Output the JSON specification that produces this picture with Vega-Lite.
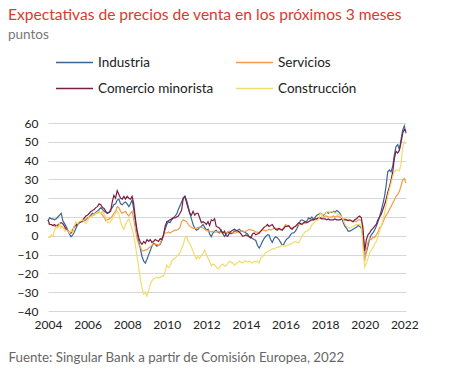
{
"$schema":"https://vega.github.io/schema/vega-lite/v6.json",
"width":358,"height":188,
"autosize":{"type":"none"},
"padding":{"left":48,"top":123,"right":50,"bottom":79},
"background":"white",
"title":{"text":"Expectativas de precios de venta en los próximos 3 meses","subtitle":"puntos","anchor":"start","frame":"group","dx":-40,"offset":2,"font":"Lato","fontSize":15.6,"fontWeight":"normal","color":"#d93a2e","subtitleFont":"Lato","subtitleFontSize":13.5,"subtitleColor":"#777777","subtitlePadding":4},
"config":{"view":{"stroke":null},"font":"Lato"},
"data":{"values":[
{"d":"2004-01","I":8,"S":6.5,"C":8.5,"K":-0.5},{"d":"2004-02","I":9.5,"S":6,"C":6,"K":-1},{"d":"2004-03","I":9,"S":6,"C":6,"K":0.5},{"d":"2004-04","I":9,"S":5.5,"C":5.5,"K":-0.5},{"d":"2004-05","I":8.5,"S":5,"C":6,"K":3},{"d":"2004-06","I":9,"S":5.5,"C":5,"K":5},{"d":"2004-07","I":10,"S":6,"C":5.5,"K":4},{"d":"2004-08","I":11,"S":5.5,"C":6.5,"K":6.5},{"d":"2004-09","I":12,"S":5,"C":7,"K":4},{"d":"2004-10","I":8,"S":4.5,"C":6.5,"K":5},{"d":"2004-11","I":6.5,"S":4,"C":5,"K":2.5},{"d":"2004-12","I":5,"S":3.5,"C":3.5,"K":3},
{"d":"2005-01","I":3,"S":3,"C":2.5,"K":2.5},{"d":"2005-02","I":1,"S":2,"C":1.5,"K":1.5},{"d":"2005-03","I":-0.5,"S":1.5,"C":1.5,"K":3},{"d":"2005-04","I":0.5,"S":3.5,"C":2.5,"K":1.5},{"d":"2005-05","I":2,"S":5,"C":5,"K":5.5},{"d":"2005-06","I":4,"S":6,"C":5.5,"K":7.5},{"d":"2005-07","I":6,"S":6.5,"C":6.5,"K":6.5},{"d":"2005-08","I":7,"S":7.5,"C":7,"K":7.5},{"d":"2005-09","I":7.5,"S":7.5,"C":7.5,"K":8},{"d":"2005-10","I":7.5,"S":8,"C":8.5,"K":8.5},{"d":"2005-11","I":8,"S":8.5,"C":9.5,"K":7.5},{"d":"2005-12","I":8.5,"S":9,"C":10.5,"K":6.5},
{"d":"2006-01","I":9.5,"S":9.5,"C":11,"K":8},{"d":"2006-02","I":10,"S":10,"C":12,"K":9.5},{"d":"2006-03","I":11,"S":10.5,"C":13,"K":10},{"d":"2006-04","I":12,"S":11,"C":13.5,"K":10.5},{"d":"2006-05","I":11.5,"S":11,"C":14,"K":11.5},{"d":"2006-06","I":12.5,"S":12,"C":15,"K":12},{"d":"2006-07","I":13,"S":12,"C":15.5,"K":12.5},{"d":"2006-08","I":14,"S":12.5,"C":17,"K":13},{"d":"2006-09","I":15,"S":12,"C":16.5,"K":12},{"d":"2006-10","I":14,"S":11,"C":15,"K":13},{"d":"2006-11","I":13,"S":10,"C":14.5,"K":11.5},{"d":"2006-12","I":12.5,"S":8,"C":13,"K":10},
{"d":"2007-01","I":12,"S":8.5,"C":12,"K":7},{"d":"2007-02","I":12.5,"S":9,"C":12.5,"K":7},{"d":"2007-03","I":14,"S":9.5,"C":13,"K":7.5},{"d":"2007-04","I":15,"S":10.5,"C":18,"K":9},{"d":"2007-05","I":16.5,"S":12,"C":21.5,"K":10.5},{"d":"2007-06","I":17,"S":13,"C":20,"K":12},{"d":"2007-07","I":19,"S":15.5,"C":24,"K":13},{"d":"2007-08","I":19.5,"S":15,"C":22,"K":11.5},{"d":"2007-09","I":17,"S":13,"C":20,"K":7.5},{"d":"2007-10","I":16.5,"S":12,"C":19.5,"K":5},{"d":"2007-11","I":17.5,"S":12.5,"C":21,"K":3.5},{"d":"2007-12","I":18,"S":13,"C":19.5,"K":6},
{"d":"2008-01","I":17,"S":11.5,"C":21,"K":8},{"d":"2008-02","I":15.5,"S":10.5,"C":20,"K":9},{"d":"2008-03","I":17,"S":12,"C":19.5,"K":6.5},{"d":"2008-04","I":19,"S":13,"C":21,"K":3.5},{"d":"2008-05","I":14,"S":9,"C":17,"K":0},{"d":"2008-06","I":7,"S":3.5,"C":9,"K":-5},{"d":"2008-07","I":1.5,"S":-1.5,"C":3,"K":-11},{"d":"2008-08","I":-3,"S":-4.5,"C":-1,"K":-17},{"d":"2008-09","I":-7,"S":-6,"C":-3.5,"K":-23},{"d":"2008-10","I":-11,"S":-8,"C":-4.5,"K":-28},{"d":"2008-11","I":-13.5,"S":-8,"C":-3,"K":-31},{"d":"2008-12","I":-14.5,"S":-7.5,"C":-4,"K":-30},
{"d":"2009-01","I":-12.5,"S":-7.5,"C":-2,"K":-32},{"d":"2009-02","I":-10,"S":-6.5,"C":-3,"K":-29},{"d":"2009-03","I":-8,"S":-6,"C":-2,"K":-26},{"d":"2009-04","I":-5.5,"S":-5,"C":-3.5,"K":-24},{"d":"2009-05","I":-4,"S":-4.5,"C":-3,"K":-23},{"d":"2009-06","I":-4.5,"S":-4.5,"C":-2,"K":-22.5},{"d":"2009-07","I":-5.5,"S":-4.5,"C":-2.5,"K":-22},{"d":"2009-08","I":-5,"S":-5,"C":-3,"K":-22.5},{"d":"2009-09","I":-4.5,"S":-4,"C":-1.5,"K":-22},{"d":"2009-10","I":-2.5,"S":-2,"C":-2,"K":-21.5},{"d":"2009-11","I":0,"S":0.5,"C":0.5,"K":-21.5},{"d":"2009-12","I":3.5,"S":1.5,"C":5,"K":-19},
{"d":"2010-01","I":6,"S":1.5,"C":7.5,"K":-15.5},{"d":"2010-02","I":7.5,"S":2,"C":8,"K":-17},{"d":"2010-03","I":7,"S":1.5,"C":8.5,"K":-16},{"d":"2010-04","I":8.5,"S":2,"C":9,"K":-13.5},{"d":"2010-05","I":9.5,"S":2.5,"C":9.5,"K":-12.5},{"d":"2010-06","I":10.5,"S":3,"C":9.5,"K":-12},{"d":"2010-07","I":11.5,"S":3,"C":10,"K":-11},{"d":"2010-08","I":14,"S":3.5,"C":10.5,"K":-10},{"d":"2010-09","I":16,"S":4.5,"C":12,"K":-9},{"d":"2010-10","I":18,"S":7.5,"C":13.5,"K":-7},{"d":"2010-11","I":20,"S":8.5,"C":20,"K":-4.5},{"d":"2010-12","I":21,"S":8,"C":21,"K":-1.5},
{"d":"2011-01","I":19,"S":7.5,"C":17.5,"K":-0.3},{"d":"2011-02","I":15.5,"S":6,"C":14.5,"K":-3},{"d":"2011-03","I":12,"S":5,"C":12,"K":-4},{"d":"2011-04","I":9,"S":4.5,"C":11,"K":-6},{"d":"2011-05","I":6,"S":4,"C":13,"K":-8.5},{"d":"2011-06","I":4,"S":4,"C":11,"K":-10.5},{"d":"2011-07","I":3,"S":4,"C":12,"K":-12.5},{"d":"2011-08","I":3.5,"S":4.5,"C":12,"K":-11},{"d":"2011-09","I":4.5,"S":4.5,"C":9.5,"K":-12},{"d":"2011-10","I":5,"S":4.5,"C":7,"K":-10.5},{"d":"2011-11","I":6,"S":4,"C":7.5,"K":-9.5},{"d":"2011-12","I":4.5,"S":3.5,"C":7,"K":-7.5},
{"d":"2012-01","I":3,"S":3,"C":6,"K":-10},{"d":"2012-02","I":3.5,"S":2.5,"C":7.5,"K":-12},{"d":"2012-03","I":1,"S":2.5,"C":5.5,"K":-13.5},{"d":"2012-04","I":-0.5,"S":2,"C":8.5,"K":-16},{"d":"2012-05","I":1.5,"S":2.5,"C":8,"K":-15},{"d":"2012-06","I":2.5,"S":2,"C":9,"K":-15.5},{"d":"2012-07","I":3,"S":2,"C":5,"K":-16.5},{"d":"2012-08","I":2,"S":2.5,"C":4.5,"K":-17.5},{"d":"2012-09","I":1.5,"S":2,"C":4,"K":-17},{"d":"2012-10","I":3,"S":1.5,"C":2.5,"K":-15.5},{"d":"2012-11","I":1,"S":1.5,"C":1.5,"K":-15},{"d":"2012-12","I":-0.3,"S":1.5,"C":2.5,"K":-16},
{"d":"2013-01","I":1,"S":1.5,"C":0,"K":-16},{"d":"2013-02","I":2,"S":2,"C":-0.3,"K":-14.5},{"d":"2013-03","I":1.5,"S":2.5,"C":1.5,"K":-13.5},{"d":"2013-04","I":1,"S":2,"C":2.5,"K":-14},{"d":"2013-05","I":1.5,"S":1.5,"C":3,"K":-14.5},{"d":"2013-06","I":2.5,"S":1.5,"C":3.5,"K":-15.5},{"d":"2013-07","I":2.5,"S":1.5,"C":3,"K":-15},{"d":"2013-08","I":3,"S":2,"C":2.5,"K":-14},{"d":"2013-09","I":3.5,"S":2,"C":2,"K":-13.5},{"d":"2013-10","I":2.5,"S":2.5,"C":1,"K":-14},{"d":"2013-11","I":2.5,"S":2.5,"C":-0.3,"K":-14.5},{"d":"2013-12","I":2,"S":2,"C":0,"K":-13.5},
{"d":"2014-01","I":1.5,"S":2.5,"C":0.5,"K":-13.5},{"d":"2014-02","I":1,"S":3,"C":0,"K":-14},{"d":"2014-03","I":-0.5,"S":3.5,"C":-0.5,"K":-13.5},{"d":"2014-04","I":-0.5,"S":3,"C":-1.2,"K":-14},{"d":"2014-05","I":-1.5,"S":3,"C":1,"K":-14.5},{"d":"2014-06","I":-2,"S":2.5,"C":1.5,"K":-13.5},{"d":"2014-07","I":-2.5,"S":2,"C":0.5,"K":-14},{"d":"2014-08","I":-5,"S":2,"C":1,"K":-13.5},{"d":"2014-09","I":-6.5,"S":1.5,"C":1.5,"K":-14.5},{"d":"2014-10","I":-5,"S":2.5,"C":2.5,"K":-12},{"d":"2014-11","I":-3,"S":3,"C":3.5,"K":-11},{"d":"2014-12","I":-1.5,"S":3,"C":4.5,"K":-10},
{"d":"2015-01","I":-0.3,"S":2.5,"C":5,"K":-9},{"d":"2015-02","I":0.5,"S":3,"C":6,"K":-8.5},{"d":"2015-03","I":0.5,"S":3.5,"C":5,"K":-8},{"d":"2015-04","I":-2,"S":3,"C":5.5,"K":-7.5},{"d":"2015-05","I":-3.5,"S":3.5,"C":6,"K":-7},{"d":"2015-06","I":-1.5,"S":4,"C":4.5,"K":-7},{"d":"2015-07","I":-0.5,"S":4,"C":3.5,"K":-6.5},{"d":"2015-08","I":-1,"S":4,"C":3,"K":-6},{"d":"2015-09","I":-2,"S":3.5,"C":4,"K":-6},{"d":"2015-10","I":-3.5,"S":3,"C":3.5,"K":-5.5},{"d":"2015-11","I":-5,"S":3.5,"C":3,"K":-5},{"d":"2015-12","I":-4.5,"S":4.5,"C":4,"K":-5.5},
{"d":"2016-01","I":-2.5,"S":6,"C":5,"K":-5.5},{"d":"2016-02","I":-1.5,"S":5.5,"C":5,"K":-5},{"d":"2016-03","I":-1,"S":5,"C":5.5,"K":-4.5},{"d":"2016-04","I":0.5,"S":4.5,"C":4,"K":-4.5},{"d":"2016-05","I":1.5,"S":4,"C":3.5,"K":-4},{"d":"2016-06","I":1.5,"S":4.5,"C":4.5,"K":-3.5},{"d":"2016-07","I":2.5,"S":5,"C":5,"K":-3},{"d":"2016-08","I":4,"S":5.5,"C":6,"K":-3.5},{"d":"2016-09","I":6,"S":6,"C":7,"K":-3.8},{"d":"2016-10","I":8,"S":6,"C":6.5,"K":-2},{"d":"2016-11","I":8.5,"S":6.5,"C":6,"K":0},{"d":"2016-12","I":8,"S":7,"C":7,"K":1},
{"d":"2017-01","I":7.5,"S":6.5,"C":7.5,"K":2.3},{"d":"2017-02","I":8,"S":7,"C":7,"K":2.5},{"d":"2017-03","I":9.5,"S":7.5,"C":7.5,"K":3.2},{"d":"2017-04","I":9,"S":8,"C":8,"K":4},{"d":"2017-05","I":10,"S":8.5,"C":8.5,"K":5.9},{"d":"2017-06","I":8.5,"S":8.5,"C":8.5,"K":6.5},{"d":"2017-07","I":10,"S":9,"C":9,"K":7.7},{"d":"2017-08","I":11,"S":9,"C":9,"K":8},{"d":"2017-09","I":11.5,"S":9.5,"C":9.5,"K":8.6},{"d":"2017-10","I":12,"S":9.5,"C":9.5,"K":12},{"d":"2017-11","I":11.5,"S":10,"C":9,"K":11},{"d":"2017-12","I":11,"S":10,"C":9,"K":11.5},
{"d":"2018-01","I":12,"S":10.5,"C":9,"K":12},{"d":"2018-02","I":12.5,"S":10.5,"C":8.5,"K":12.5},{"d":"2018-03","I":12,"S":10,"C":9,"K":13},{"d":"2018-04","I":12.5,"S":10,"C":8.5,"K":12.5},{"d":"2018-05","I":12.5,"S":10,"C":8.5,"K":13},{"d":"2018-06","I":13,"S":10.5,"C":8.5,"K":12.5},{"d":"2018-07","I":12.5,"S":10,"C":9,"K":12},{"d":"2018-08","I":13.5,"S":10.5,"C":8.5,"K":12},{"d":"2018-09","I":13,"S":10.5,"C":8.5,"K":11.5},{"d":"2018-10","I":12,"S":10,"C":8.5,"K":11},{"d":"2018-11","I":10,"S":9.5,"C":9,"K":10},{"d":"2018-12","I":7,"S":9,"C":8.5,"K":8.6},
{"d":"2019-01","I":5,"S":9,"C":8.5,"K":6.5},{"d":"2019-02","I":4,"S":8.5,"C":8.5,"K":5},{"d":"2019-03","I":2.5,"S":8.5,"C":8,"K":4.5},{"d":"2019-04","I":2.5,"S":8,"C":8.5,"K":4},{"d":"2019-05","I":3,"S":8,"C":8,"K":4.5},{"d":"2019-06","I":3.5,"S":7.5,"C":7.5,"K":5},{"d":"2019-07","I":4,"S":8,"C":8.5,"K":5.5},{"d":"2019-08","I":4.5,"S":7.5,"C":9,"K":6},{"d":"2019-09","I":5.5,"S":8.5,"C":10,"K":6},{"d":"2019-10","I":5,"S":8.5,"C":10.5,"K":6},{"d":"2019-11","I":4,"S":8,"C":9.5,"K":5},{"d":"2019-12","I":0,"S":5,"C":3,"K":-7},
{"d":"2020-01","I":-11.5,"S":-13.5,"C":-8,"K":-16.5},{"d":"2020-02","I":-8.5,"S":-7.5,"C":-2,"K":-14.5},{"d":"2020-03","I":-5.5,"S":-3.5,"C":0.5,"K":-12},{"d":"2020-04","I":-1.5,"S":-1.5,"C":1.5,"K":-9},{"d":"2020-05","I":0.5,"S":-2,"C":3,"K":-7.5},{"d":"2020-06","I":1.5,"S":-0.5,"C":4,"K":-6.5},{"d":"2020-07","I":3,"S":-1,"C":5,"K":-4.5},{"d":"2020-08","I":5,"S":0.5,"C":6,"K":-3},{"d":"2020-09","I":7.5,"S":1.5,"C":8.5,"K":-0.5},{"d":"2020-10","I":10,"S":4.5,"C":10,"K":2.5},{"d":"2020-11","I":13.5,"S":5,"C":11.5,"K":5},{"d":"2020-12","I":17,"S":7,"C":14,"K":8.5},
{"d":"2021-01","I":21,"S":9.5,"C":16.5,"K":12},{"d":"2021-02","I":27,"S":11,"C":19.5,"K":16.5},{"d":"2021-03","I":34,"S":12,"C":23,"K":21},{"d":"2021-04","I":35,"S":14,"C":26,"K":24.5},{"d":"2021-05","I":34,"S":15.5,"C":29.5,"K":28},{"d":"2021-06","I":37,"S":17.5,"C":34,"K":31.5},{"d":"2021-07","I":43,"S":19,"C":41,"K":34},{"d":"2021-08","I":47.5,"S":21,"C":45,"K":35},{"d":"2021-09","I":48.5,"S":22,"C":44,"K":35},{"d":"2021-10","I":46,"S":23.5,"C":45.5,"K":34.5},{"d":"2021-11","I":51,"S":26.5,"C":49.5,"K":38},{"d":"2021-12","I":56,"S":29.5,"C":54.5,"K":47},
{"d":"2022-01","I":58.5,"S":30.5,"C":56.5,"K":50},{"d":"2022-02","I":54.5,"S":28,"C":55.5,"K":49}
]},
"transform":[{"fold":["I","S","C","K"],"as":["s","v"]}],
"mark":{"type":"line","strokeWidth":1.2},
"encoding":{
"x":{"field":"d","type":"temporal","scale":{"type":"utc"},
 "axis":{"format":"%Y","tickCount":{"interval":"year","step":2},"grid":false,"domain":false,"ticks":false,"labelFlush":false,"labelOverlap":false,"labelFont":"Lato","labelFontSize":12,"labelColor":"#222222","labelPadding":8,
 "title":"Fuente: Singular Bank a partir de Comisión Europea, 2022","titleX":-40,"titleY":50,"titleAlign":"left","titleBaseline":"alphabetic","titleFont":"Lato","titleFontSize":13.3,"titleFontWeight":"normal","titleColor":"#666666"}},
"y":{"field":"v","type":"quantitative","scale":{"domain":[-40,60],"nice":false,"zero":false},
 "axis":{"values":[-40,-30,-20,-10,0,10,20,30,40,50,60],"grid":true,"gridColor":"#d6d6d6","gridWidth":1,"domain":false,"ticks":false,"labelFlush":false,"labelPadding":10,"labelFont":"Lato","labelFontSize":12,"labelColor":"#222222","title":null}},
"color":{"field":"s","type":"nominal","sort":null,"scale":{"domain":["I","C","S","K"],"range":["#3a6594","#7a1f44","#f39c4a","#f2dc6e"]},
 "legend":{"orient":"none","legendX":7,"legendY":-80,"columns":2,"title":null,"padding":0,"symbolType":"stroke","symbolSize":1369,"symbolStrokeWidth":1.5,"labelFont":"Lato","labelFontSize":13.5,"labelColor":"#222222","labelOffset":4,"columnPadding":19,"rowPadding":-12,
 "labelExpr":"datum.label == 'I' ? 'Industria' : datum.label == 'S' ? 'Servicios' : datum.label == 'C' ? 'Comercio minorista' : 'Construcción'"}}
}
}
